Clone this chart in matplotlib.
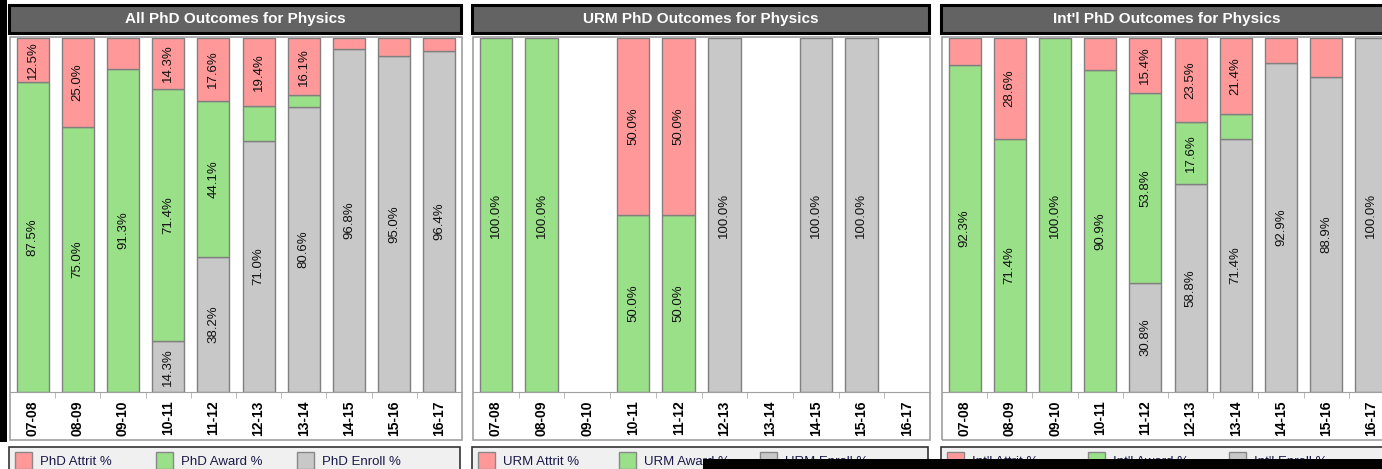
import numpy as np
import matplotlib
matplotlib.use('Agg')
import matplotlib.pyplot as plt
from matplotlib.patches import Rectangle

plt.rcParams['font.family'] = ['Liberation Sans', 'DejaVu Sans']

years = ['07-08', '08-09', '09-10', '10-11', '11-12', '12-13', '13-14', '14-15', '15-16', '16-17']

# percent of each cohort: attrit / award / still enrolled
all_attrit = [12.5, 25.0, 8.7, 14.3, 17.6, 19.4, 16.1, 3.2, 5.0, 3.6]
all_award = [87.5, 75.0, 91.3, 71.4, 44.1, 9.7, 3.2, 0.0, 0.0, 0.0]
all_enroll = [0.0, 0.0, 0.0, 14.3, 38.2, 71.0, 80.6, 96.8, 95.0, 96.4]

urm_attrit = [0.0, 0.0, 0.0, 50.0, 50.0, 0.0, 0.0, 0.0, 0.0, 0.0]
urm_award = [100.0, 100.0, 0.0, 50.0, 50.0, 0.0, 0.0, 0.0, 0.0, 0.0]
urm_enroll = [0.0, 0.0, 0.0, 0.0, 0.0, 100.0, 0.0, 100.0, 100.0, 0.0]

intl_attrit = [7.7, 28.6, 0.0, 9.1, 15.4, 23.5, 21.4, 7.1, 11.1, 0.0]
intl_award = [92.3, 71.4, 100.0, 90.9, 53.8, 17.6, 7.1, 0.0, 0.0, 0.0]
intl_enroll = [0.0, 0.0, 0.0, 0.0, 30.8, 58.8, 71.4, 92.9, 88.9, 100.0]

panels = [
    ('All PhD Outcomes for Physics', 'PhD', all_attrit, all_award, all_enroll),
    ('URM PhD Outcomes for Physics', 'URM', urm_attrit, urm_award, urm_enroll),
    ("Int'l PhD Outcomes for Physics", "Int'l", intl_attrit, intl_award, intl_enroll),
]

c_attrit = '#ff9999'
c_award = '#99e088'
c_enroll = '#c8c8c8'
c_edge = '#808080'

W, H = 1382, 469
fig = plt.figure(figsize=(W / 100, H / 100), dpi=100)
fig.patch.set_facecolor('white')

# panel geometry in pixels (left, width)
lefts = [10, 473, 942]
widths = [452, 457, 452]
bar_top, bar_bot, frame_bot = 38, 392, 440


def px(x, y, w, h):
    # pixel box (top-left origin) -> figure fraction
    return [x / W, 1 - (y + h) / H, w / W, h / H]


for (title, tag, attrit, award, enroll), left, width in zip(panels, lefts, widths):
    # title banner
    x0, y0, w0, h0 = px(left - 1, 5, width, 28)
    fig.patches.append(Rectangle((x0, y0), w0, h0, transform=fig.transFigure,
                                 facecolor='#636363', edgecolor='black', lw=2.2, zorder=1))
    fig.text(x0 + w0 / 2, y0 + h0 / 2, title, color='white', fontsize=11,
             fontweight='bold', ha='center', va='center')

    # outer frame around bars + year labels
    x0, y0, w0, h0 = px(left, bar_top - 1, width, frame_bot - bar_top + 1)
    fig.patches.append(Rectangle((x0, y0), w0, h0, transform=fig.transFigure,
                                 facecolor='none', edgecolor='#a0a0a0', lw=1.2, zorder=-1))

    ax = fig.add_axes(px(left, bar_top, width, bar_bot - bar_top))
    ax.set_facecolor('none')
    idx = np.arange(len(years))
    att = np.array(attrit)
    awd = np.array(award)
    enr = np.array(enroll)
    bw = 0.71
    # stack enroll -> award -> attrit, skipping empty segments
    base = np.zeros(len(years))
    for vals, col in ((enr, c_enroll), (awd, c_award), (att, c_attrit)):
        m = vals > 0
        ax.bar(idx[m], vals[m], bw, bottom=base[m], color=col, edgecolor=c_edge, lw=1)
        for i in idx[m]:
            if vals[i] >= 12:
                ax.text(i, base[i] + vals[i] / 2, f'{vals[i]:.1f}%', rotation=90,
                        ha='center', va='center', fontsize=9.5, color='#111111')
        base = base + vals

    ax.set_xlim(-0.5, len(years) - 0.5)
    ax.set_ylim(0, 100)
    ax.set_yticks([])
    ax.set_xticks(idx)
    ax.set_xticklabels(years, rotation=90, fontweight='bold', fontsize=10)
    ax.tick_params(axis='x', which='major', length=0, pad=6)
    ax.set_xticks(np.arange(0.5, len(years) - 1, 1.0), minor=True)
    ax.tick_params(axis='x', which='minor', length=4, color='#b0b0b0', direction='out')
    for s in ('top', 'left', 'right'):
        ax.spines[s].set_visible(False)
    ax.spines['bottom'].set_color('#a0a0a0')

    # legend strip
    x0, y0, w0, h0 = px(left - 1, 447, width - 1, 30)
    fig.patches.append(Rectangle((x0, y0), w0, h0, transform=fig.transFigure,
                                 facecolor='#f0f0f0', edgecolor='#333333', lw=1.2, zorder=1))
    names = [tag + ' Attrit %', tag + ' Award %', tag + ' Enroll %']
    for k, (name, col) in enumerate(zip(names, [c_attrit, c_award, c_enroll])):
        sx = left + 5 + 141 * k
        bx, by, bw_, bh_ = px(sx, 452, 17, 17)
        fig.patches.append(Rectangle((bx, by), bw_, bh_, transform=fig.transFigure,
                                     facecolor=col, edgecolor='#888888', lw=1, zorder=2))
        tx, ty, _, _ = px(sx + 25, 462, 0, 0)
        fig.text(tx, ty, name, fontsize=9.5, color='#1a1a4a', ha='left', va='center', zorder=3)

# dark edges over the frame
for (x, y, w, h) in [(0, 0, 7, 442), (703, 459, 700, 20)]:
    bx, by, bw_, bh_ = px(x, y, w, h)
    fig.patches.append(Rectangle((bx, by), bw_, bh_, transform=fig.transFigure,
                                 facecolor='black', edgecolor='none', zorder=10))

fig.savefig('out.png', dpi=100)
